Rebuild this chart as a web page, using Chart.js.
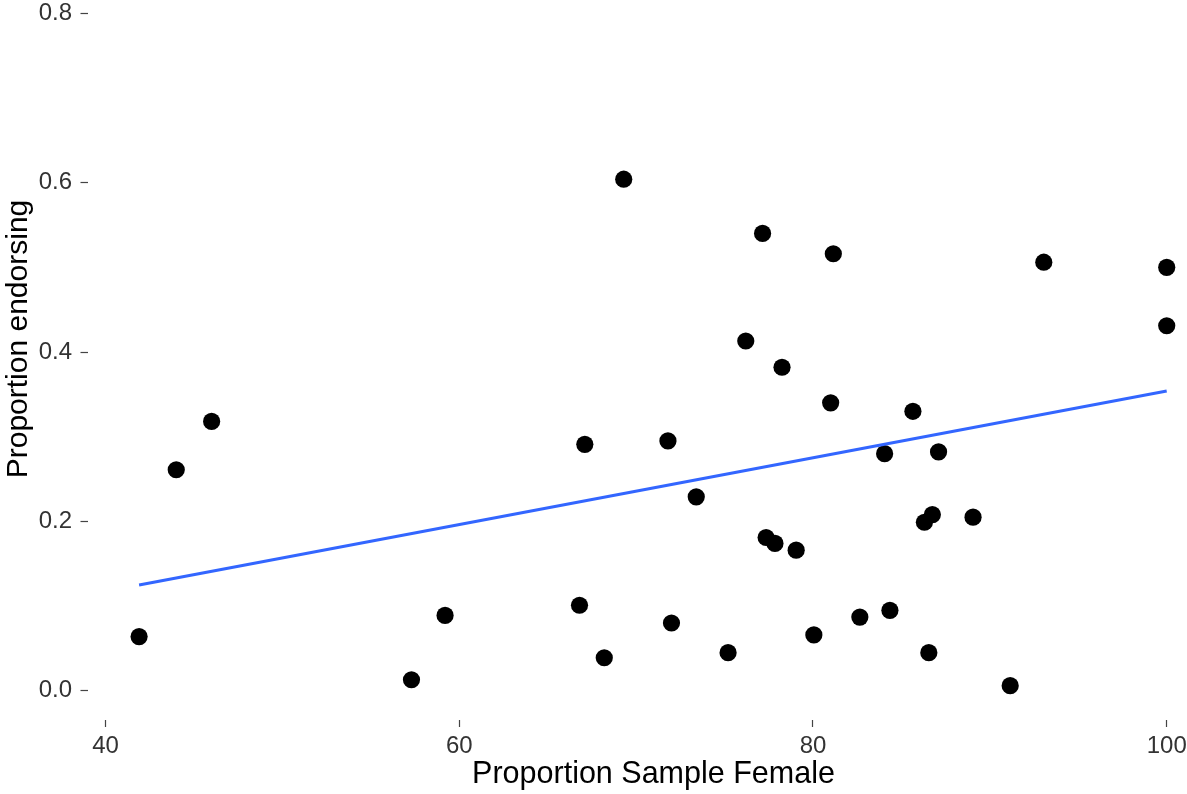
<!DOCTYPE html>
<html>
<head>
<meta charset="utf-8">
<script src="https://cdn.jsdelivr.net/npm/chart.js@4"></script>
<style>
  html, body { margin: 0; padding: 0; background: #fff; overflow: hidden; width: 1187px; height: 794px; }
  #wrap { position: relative; width: 1187px; height: 794px; overflow: hidden; }
  canvas { display: block; position: absolute; left: 0; top: -42px; }
</style>
</head>
<body>
<div id="wrap"><canvas id="c" width="1219" height="836"></canvas></div>
<script>
// Data
const femaleProportion = [41.9, 44.0, 46.0, 57.3, 59.2, 66.8, 67.1, 68.2, 69.3, 71.8, 72.0, 73.4, 75.2, 76.2, 77.15, 77.35, 77.85, 78.25, 79.05, 80.05, 81.0, 81.15, 82.65, 84.05, 84.35, 85.65, 86.3, 86.55, 86.75, 87.1, 89.05, 91.15, 93.05, 100.0, 100.0];
const endorsing = [0.064, 0.261, 0.318, 0.013, 0.089, 0.101, 0.291, 0.039, 0.604, 0.295, 0.080, 0.229, 0.045, 0.413, 0.540, 0.181, 0.174, 0.382, 0.166, 0.066, 0.340, 0.516, 0.087, 0.280, 0.095, 0.330, 0.199, 0.045, 0.208, 0.282, 0.205, 0.006, 0.506, 0.500, 0.431];
const fitX = [41.9, 100.0];
const fitY = [0.125, 0.354];
const xTickValues = [40, 60, 80, 100];
const yTickValues = [0.0, 0.2, 0.4, 0.6, 0.8];
const xTitle = 'Proportion Sample Female';
const yTitle = 'Proportion endorsing';

const FONT = '"Liberation Sans", Arial, Helvetica, sans-serif';

const points = femaleProportion.map((x, i) => ({ x: x, y: endorsing[i] }));
const fitLine = fitX.map((x, i) => ({ x: x, y: fitY[i] }));

function zeroPad(s) {
  s.paddingTop = 0; s.paddingBottom = 0; s.paddingLeft = 0; s.paddingRight = 0;
}

new Chart(document.getElementById('c'), {
  type: 'scatter',
  data: {
    datasets: [
      {
        label: 'fit',
        data: fitLine,
        showLine: true,
        borderColor: '#3366FF',
        borderWidth: 3,
        pointRadius: 0,
        pointHoverRadius: 0,
        fill: false
      },
      {
        label: 'studies',
        data: points,
        backgroundColor: '#000000',
        borderWidth: 0,
        pointRadius: 8.6,
        pointHoverRadius: 8.6
      }
    ]
  },
  options: {
    responsive: false,
    devicePixelRatio: 1,
    animation: false,
    events: [],
    layout: { padding: 0, autoPadding: false },
    plugins: { legend: { display: false }, tooltip: { enabled: false } },
    scales: {
      x: {
        type: 'linear',
        min: 39.011,
        max: 102.956,
        afterBuildTicks: (s) => { s.ticks = xTickValues.map(v => ({ value: v })); },
        afterFit: (s) => { s.height = 74; zeroPad(s); },
        border: { display: false },
        grid: { display: true, drawOnChartArea: false, drawTicks: true, tickLength: 7, tickColor: '#444444', tickWidth: 1.2 },
        ticks: {
          autoSkip: false, maxRotation: 0, padding: 5,
          color: '#333333',
          font: { family: FONT, size: 24 },
          callback: (v) => String(v)
        },
        title: {
          display: true, text: xTitle, color: '#000000',
          font: { family: FONT, size: 30.5, lineHeight: 1.2 },
          padding: { top: 0, bottom: 1 }
        }
      },
      y: {
        type: 'linear',
        min: -0.0345,
        max: 0.8652,
        afterBuildTicks: (s) => { s.ticks = yTickValues.map(v => ({ value: v })); },
        afterFit: (s) => { s.width = 88; zeroPad(s); },
        border: { display: false },
        grid: { display: true, drawOnChartArea: false, drawTicks: true, tickLength: 7.5, tickColor: '#444444', tickWidth: 1.2 },
        ticks: {
          autoSkip: false, padding: 8.5,
          color: '#333333',
          font: { family: FONT, size: 24 },
          callback: (v) => Number(v).toFixed(1)
        },
        title: {
          display: true, text: yTitle, color: '#000000',
          font: { family: FONT, size: 30, lineHeight: 1.2 },
          padding: { top: 0.5, bottom: 0 }
        }
      }
    }
  }
});
</script>
</body>
</html>
